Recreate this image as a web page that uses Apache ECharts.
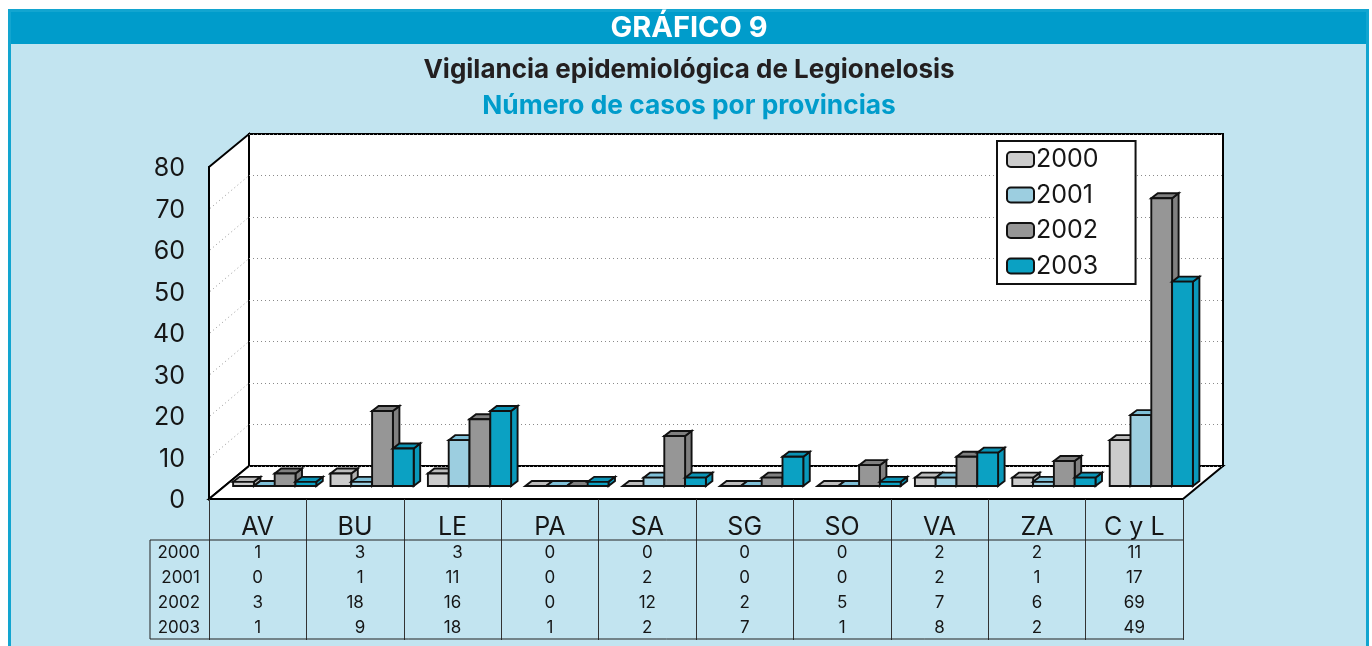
<!DOCTYPE html>
<html><head><meta charset="utf-8">
<style>html,body{margin:0;padding:0;background:#fff}#c{width:1372px;height:646px}</style>
<script src="https://cdn.jsdelivr.net/npm/echarts@6/dist/echarts.min.js"></script>
</head><body><div id="c"></div>
<script>
const categories = ['AV','BU','LE','PA','SA','SG','SO','VA','ZA','C y L'];
const years = ['2000','2001','2002','2003'];
const values2000 = [1,3,3,0,0,0,0,2,2,11];
const values2001 = [0,1,11,0,2,0,0,2,1,17];
const values2002 = [3,18,16,0,12,2,5,7,6,69];
const values2003 = [1,9,18,1,2,7,1,8,2,49];
const yTicks = [0,10,20,30,40,50,60,70,80];
const colors = ['#CCCCCC','#9CCEE0','#969696','#0BA1C3'];
const topColors = ['#BDBDBD','#7FC0D8','#808080','#0A93B5'];
const sideColors = ['#B0B0B0','#8CC4D8','#808080','#0A98BA'];
const allValues = [values2000,values2001,values2002,values2003];

const FONT = 'Inter, "Liberation Sans", Arial, sans-serif';
const INK = '#161616';
const L = 209, W = 974, FT = 167, FB = 499, DX = 40, DY = 33;
const TT = 540, TB = 639, TL = 150;
const barW = 0.2135, depthX = 6.5, depthY = 5;

function barRender(si){
  return function(params, api){
    const v = api.value(1);
    const base = api.coord([api.value(0), 0]);
    const top = api.coord([api.value(0), v]);
    const band = api.size([1,0])[0];
    const w = band * barW;
    const x0 = base[0] + (si - 2) * w;
    const x1 = x0 + w;
    const b = base[1], t = top[1];
    const line = {stroke:'#111', lineWidth:1.9, lineJoin:'miter'};
    return {type:'group', children:[
      {type:'polygon', shape:{points:[[x1,b],[x1+depthX,b-depthY],[x1+depthX,t-depthY],[x1,t]]}, style:Object.assign({fill:sideColors[si]},line)},
      {type:'polygon', shape:{points:[[x0,t],[x0+depthX,t-depthY],[x1+depthX,t-depthY],[x1,t]]}, style:Object.assign({fill:topColors[si]},line)},
      {type:'rect', shape:{x:x0,y:t,width:w,height:b-t}, style:Object.assign({fill:colors[si]},line)}
    ]};
  };
}

const barSeries = years.map((y,si)=>({
  name:y, type:'custom', coordinateSystem:'cartesian2d', xAxisIndex:2, yAxisIndex:2,
  itemStyle:{color:colors[si], borderColor:'#111', borderWidth:2},
  renderItem:barRender(si), z:5, silent:true,
  encode:{x:0,y:1},
  data:allValues[si].map((v,i)=>[i,v])
}));

const cells = [];
allValues.forEach((arr,r)=>arr.forEach((v,c)=>cells.push([c,r,v])));
const tableSeries = {
  type:'custom', coordinateSystem:'cartesian2d', xAxisIndex:3, yAxisIndex:3, silent:true, z:6,
  encode:{x:0,y:1},
  data:cells,
  renderItem:function(p,api){
    const c = api.value(0), v = api.value(2);
    const pt = api.coord([c, api.value(1)]);
    const shift = (c===1||c===2) && v<10 ? 5 : 0;
    return {type:'text', style:{x:pt[0]+shift, y:pt[1], text:String(v), fill:INK, font:'17px '+FONT, textAlign:'center', textVerticalAlign:'middle'}};
  }
};

const wall = {fill:'#fff', stroke:'#000', lineWidth:2, lineJoin:'miter'};
const graphics = [
  {type:'rect', z:-10, shape:{x:9.5,y:10.5,width:1358,height:650}, style:{fill:'#C2E4F0', stroke:'#12A5D0', lineWidth:3}},
  {type:'rect', z:-9, shape:{x:11,y:12,width:1355,height:32}, style:{fill:'#009CCB'}},
  {type:'polygon', z:-8, shape:{points:[[L,FT],[L+DX,FT-DY],[L+DX,FB-DY],[L,FB]]}, style:wall},
  {type:'polygon', z:-8, shape:{points:[[L+DX,FT-DY],[L+DX+W,FT-DY],[L+DX+W,FB-DY],[L+DX,FB-DY]]}, style:wall},
  {type:'polygon', z:-8, shape:{points:[[L,FB],[L+DX,FB-DY],[L+DX+W,FB-DY],[L+W,FB]]}, style:wall},
  {type:'polyline', z:3, shape:{points:[[TL,TB],[TL,TT],[L+W,TT]]}, style:{stroke:'#222',lineWidth:1,fill:null}},
  {type:'polyline', z:3, shape:{points:[[TL,TB],[L+W,TB]]}, style:{stroke:'#222',lineWidth:1,fill:null}}
];
yTicks.slice(1,-1).forEach(v=>{
  const yf = FB-(FB-FT)*v/80;
  graphics.push({type:'line', z:-7, shape:{x1:L+1,y1:yf,x2:L+DX,y2:yf-DY}, style:{stroke:'#999',lineWidth:1,lineDash:[1,3]}});
});

const chart = echarts.init(document.getElementById('c'), null, {renderer:'canvas'});
const hiddenX = {type:'category', data:categories, axisLine:{show:false}, axisTick:{show:false}, axisLabel:{show:false}, splitLine:{show:false}};
chart.setOption({
  animation:false,
  backgroundColor:'#fff',
  graphic:graphics,
  title:[
    {text:'GRÁFICO 9', left:689, top:28, textAlign:'center', textVerticalAlign:'middle', textStyle:{color:'#fff',fontFamily:FONT,fontWeight:'bold',fontSize:29}, padding:0},
    {text:'Vigilancia epidemiológica de Legionelosis', left:689, top:70, textAlign:'center', textVerticalAlign:'middle', textStyle:{color:'#231F20',fontFamily:FONT,fontWeight:'bold',fontSize:26}, padding:0},
    {text:'Número de casos por provincias', left:689, top:106, textAlign:'center', textVerticalAlign:'middle', textStyle:{color:'#009CCB',fontFamily:FONT,fontWeight:'bold',fontSize:26.3}, padding:0}
  ],
  legend:{
    data:years, orient:'vertical', left:997, top:141, itemWidth:27, itemHeight:15, itemGap:8.5, itemStyle:{borderColor:'#111',borderWidth:2,borderJoin:'miter'},
    padding:[5,37,4.5,9], backgroundColor:'#fff', borderColor:'#111', borderWidth:2, selectedMode:false, z:8,
    textStyle:{fontFamily:FONT,fontSize:25,color:INK,padding:[3,0,0,-3],lineHeight:24}
  },
  grid:[
    {left:L, width:W, top:FT, height:FB-FT},
    {left:L+DX, width:W, top:FT-DY, height:FB-FT},
    {left:L+17, width:W, top:486-333.6, height:333.6},
    {left:L, width:W, top:TT, height:TB-TT+1},
    {left:L, width:W, top:FT+1.5, height:FB-FT}
  ],
  xAxis:[
    {gridIndex:0, type:'category', data:categories, axisLine:{show:true,lineStyle:{color:'#000',width:2}}, axisTick:{show:true,length:41,lineStyle:{color:'#333',width:1}},
     axisLabel:{fontFamily:FONT,fontSize:25,color:INK,margin:16}, splitLine:{show:false}},
    Object.assign({gridIndex:1},hiddenX),
    Object.assign({gridIndex:2},hiddenX),
    {gridIndex:3, type:'category', data:categories, axisLine:{show:false}, axisTick:{show:false}, axisLabel:{show:false}, splitLine:{show:true,lineStyle:{color:'#333',width:1}}},
    Object.assign({gridIndex:4},hiddenX)
  ],
  yAxis:[
    {gridIndex:0, type:'value', min:0, max:80, interval:10, axisLine:{show:true,lineStyle:{color:'#000',width:2}}, axisTick:{show:false}, axisLabel:{show:false}, splitLine:{show:false}},
    {gridIndex:1, type:'value', min:0, max:80, interval:10, axisLine:{show:false}, axisTick:{show:false}, axisLabel:{show:false},
     splitLine:{show:true,lineStyle:{color:'#8a8a8a',width:1,type:[1,3]}}},
    {gridIndex:2, type:'value', min:0, max:80, interval:10, axisLine:{show:false}, axisTick:{show:false}, axisLabel:{show:false}, splitLine:{show:false}},
    {gridIndex:3, type:'category', data:years, inverse:true, axisLine:{show:false}, axisTick:{show:false}, axisLabel:{fontFamily:FONT,fontSize:17,color:INK,margin:9}, splitLine:{show:false}},
    {gridIndex:4, type:'value', min:0, max:80, interval:10, axisLine:{show:false}, axisTick:{show:false},
     axisLabel:{fontFamily:FONT,fontSize:25,color:INK,margin:24}, splitLine:{show:false}}
  ],
  series:barSeries.concat([tableSeries])
});
</script></body></html>
